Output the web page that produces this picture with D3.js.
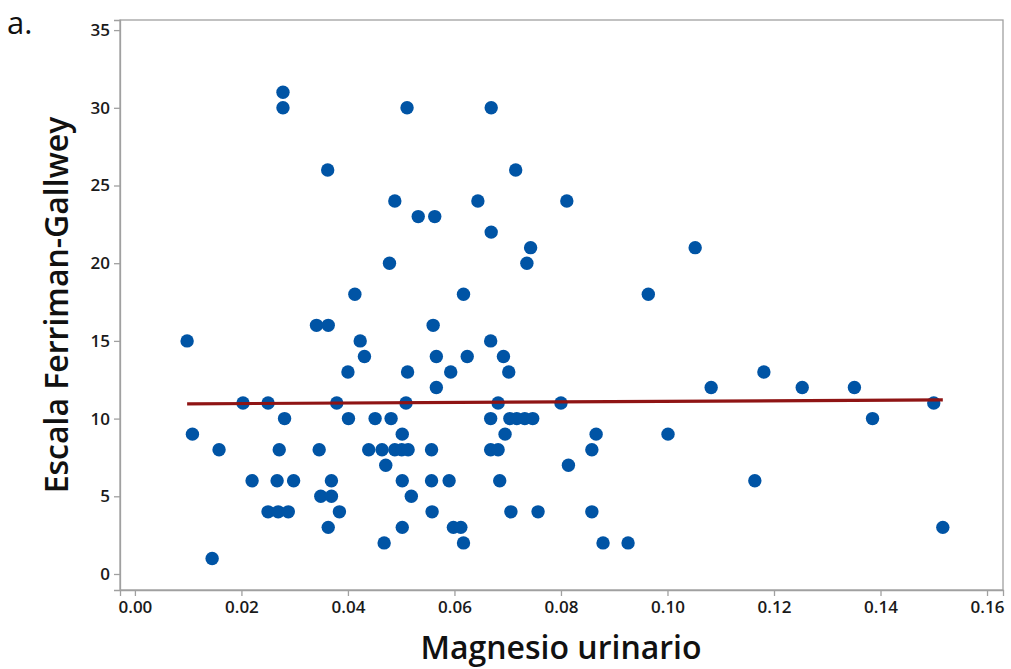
<!DOCTYPE html>
<html>
<head>
<meta charset="utf-8">
<script src="https://cdn.jsdelivr.net/npm/d3@7"></script>
<style>
  body { margin: 0; background: #fff; }
  svg { display: block; }
  .tick text { font-family: "Open Sans", "Noto Sans", sans-serif; font-size: 17px; font-weight: 600; fill: #1a1a1a; }
</style>
</head>
<body>
<svg id="chart" width="1011" height="669"></svg>
<script>
// Magnesio urinario (x) and Escala Ferriman-Gallwey (y)
const magnesio = [
  0.0278,
  0.0278, 0.0511, 0.0669,
  0.0362, 0.0715,
  0.0488, 0.0644, 0.0811,
  0.0532, 0.0563,
  0.0669,
  0.0743, 0.1052,
  0.0478, 0.0736,
  0.0413, 0.0617, 0.0964,
  0.0341, 0.0363, 0.0560,
  0.0098, 0.0423, 0.0668,
  0.0431, 0.0566, 0.0624, 0.0692,
  0.0400, 0.0512, 0.0593, 0.0702, 0.1181,
  0.0566, 0.1082, 0.1253, 0.1351,
  0.0203, 0.0250, 0.0379, 0.0509, 0.0682, 0.0800, 0.1500,
  0.0281, 0.0401, 0.0451, 0.0481, 0.0668, 0.0704, 0.0717, 0.0732, 0.0747, 0.1385,
  0.0108, 0.0502, 0.0695, 0.0866, 0.1001,
  0.0158, 0.0271, 0.0346, 0.0439, 0.0464, 0.0488, 0.0501, 0.0513, 0.0557, 0.0668, 0.0682, 0.0858,
  0.0471, 0.0814,
  0.0220, 0.0267, 0.0298, 0.0369, 0.0502, 0.0557, 0.0590, 0.0685, 0.1164,
  0.0349, 0.0369, 0.0519,
  0.0250, 0.0269, 0.0288, 0.0384, 0.0558, 0.0706, 0.0757, 0.0858,
  0.0363, 0.0502, 0.0598, 0.0612, 0.1517,
  0.0468, 0.0617, 0.0879, 0.0926,
  0.0145
];
const ferriman = [
  31,
  30, 30, 30,
  26, 26,
  24, 24, 24,
  23, 23,
  22,
  21, 21,
  20, 20,
  18, 18, 18,
  16, 16, 16,
  15, 15, 15,
  14, 14, 14, 14,
  13, 13, 13, 13, 13,
  12, 12, 12, 12,
  11, 11, 11, 11, 11, 11, 11,
  10, 10, 10, 10, 10, 10, 10, 10, 10, 10,
  9, 9, 9, 9, 9,
  8, 8, 8, 8, 8, 8, 8, 8, 8, 8, 8, 8,
  7, 7,
  6, 6, 6, 6, 6, 6, 6, 6, 6,
  5, 5, 5,
  4, 4, 4, 4, 4, 4, 4, 4,
  3, 3, 3, 3, 3,
  2, 2, 2, 2,
  1
];
// fitted line
const fitIntercept = 10.93;
const fitSlope = 1.8;

const xTicks = [0, 0.02, 0.04, 0.06, 0.08, 0.10, 0.12, 0.14, 0.16];
const yTicks = [0, 5, 10, 15, 20, 25, 30, 35];
const xTitle = "Magnesio urinario";
const yTitle = "Escala Ferriman-Gallwey";
const panelLabel = "a.";

const points = magnesio.map((m, i) => ({ x: m, y: ferriman[i] }));

const svg = d3.select("#chart");
const pL = 120, pT = 20, pR = 1003, pB = 590;

const x = d3.scaleLinear().domain([-0.0028, 0.163]).range([pL, pR]);
const y = d3.scaleLinear().domain([-1.03, 35.65]).range([pB, pT]);

// frame
svg.append("rect")
  .attr("x", pL).attr("y", pT)
  .attr("width", pR - pL).attr("height", pB - pT)
  .attr("fill", "none").attr("stroke", "#a0a0a0").attr("stroke-width", 1.3);

const gx = svg.append("g").attr("transform", `translate(0,${pB})`)
  .call(d3.axisBottom(x).tickValues(xTicks).tickFormat(d3.format(".2f")).tickSize(6).tickPadding(5));
const gy = svg.append("g").attr("transform", `translate(${pL},0)`)
  .call(d3.axisLeft(y).tickValues(yTicks).tickSize(6).tickPadding(4));
[gx, gy].forEach(g => {
  g.select(".domain").attr("stroke", "#a0a0a0").attr("stroke-width", 1.3);
  g.selectAll(".tick line").attr("stroke", "#a0a0a0").attr("stroke-width", 1.3);
});

// points
svg.append("g").selectAll("circle").data(points).join("circle")
  .attr("cx", d => x(d.x)).attr("cy", d => y(d.y))
  .attr("r", 6.7).attr("fill", "#0054a5");

// regression line
const ext = d3.extent(magnesio);
const line = d3.line().x(d => x(d)).y(d => y(fitIntercept + fitSlope * d));
svg.append("path").datum(ext).attr("d", line)
  .attr("stroke", "#8f1414").attr("stroke-width", 3.2).attr("fill", "none");

// titles
svg.append("text").attr("x", 561).attr("y", 659)
  .attr("text-anchor", "middle")
  .style("font-family", "'Open Sans', 'Noto Sans', sans-serif")
  .style("font-size", "32px").style("font-weight", 600).style("fill", "#111")
  .text(xTitle);
svg.append("text")
  .attr("transform", `translate(68,${(pT + pB) / 2}) rotate(-90)`)
  .attr("text-anchor", "middle")
  .style("font-family", "'Open Sans', 'Noto Sans', sans-serif")
  .style("font-size", "32px").style("font-weight", 600).style("fill", "#111")
  .text(yTitle);
svg.append("text").attr("x", 7).attr("y", 34)
  .style("font-family", "'Open Sans', 'Noto Sans', sans-serif")
  .style("font-size", "31px").style("fill", "#111")
  .text(panelLabel);
</script>
</body>
</html>
